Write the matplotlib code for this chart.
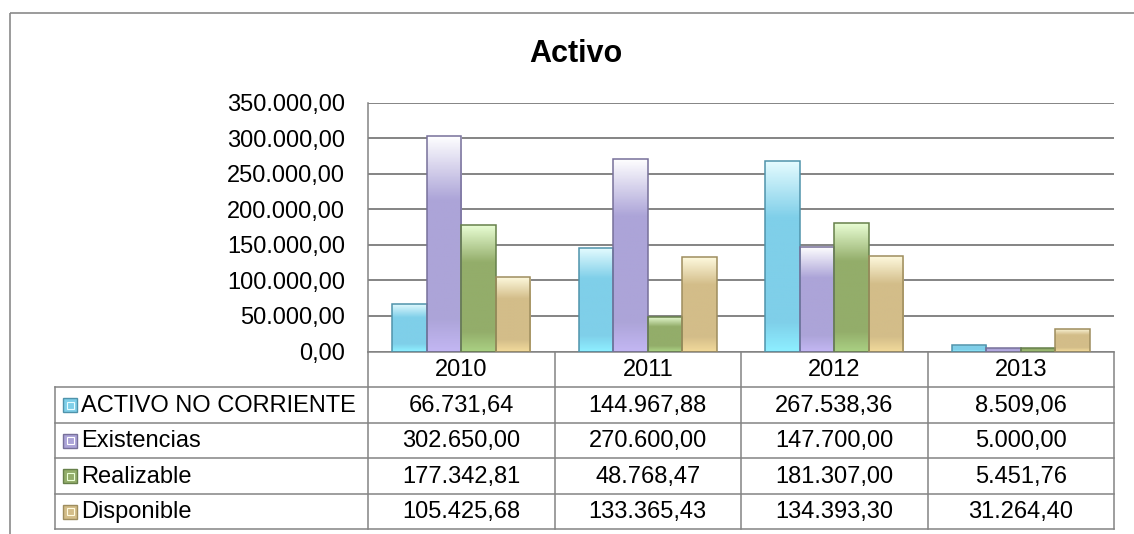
import numpy as np
import matplotlib.pyplot as plt
from matplotlib.patches import Rectangle
from matplotlib.colors import LinearSegmentedColormap

plt.rcParams['font.family'] = ['Liberation Sans', 'DejaVu Sans']

# --- data ---
years = ["2010", "2011", "2012", "2013"]
series_names = ["ACTIVO NO CORRIENTE", "Existencias", "Realizable", "Disponible"]
activo_no_corriente = [66731.64, 144967.88, 267538.36, 8509.06]
existencias = [302650.00, 270600.00, 147700.00, 5000.00]
realizable = [177342.81, 48768.47, 181307.00, 5451.76]
disponible = [105425.68, 133365.43, 134393.30, 31264.40]
series_values = [activo_no_corriente, existencias, realizable, disponible]
y_ticks = [0, 50000, 100000, 150000, 200000, 250000, 300000, 350000]

# light top / main / bottom / edge colour per series
styles = [
    ("#e6fcff", "#7fcfe9", "#8deeff", "#4f93ab"),
    ("#ffffff", "#aca4d8", "#c2b6f2", "#77709a"),
    ("#eaffd6", "#93ad6a", "#a9cf82", "#66804a"),
    ("#fffbe0", "#d3bd89", "#f0d89a", "#9e8d5e"),
]


def fmt(v):
    s = f"{v:,.2f}"
    return s.replace(",", "X").replace(".", ",").replace("X", ".")


W, H = 1134, 534
fig = plt.figure(figsize=(W / 100, H / 100), dpi=100)

# overlay in pixel coordinates for frame and data table
tax = fig.add_axes([0, 0, 1, 1], zorder=0)
tax.set_xlim(0, W)
tax.set_ylim(H, 0)
tax.axis("off")

px0, px1 = 368, 1114
py_top, py0 = 102.7, 351.5
ax = fig.add_axes([px0 / W, (H - py0) / H, (px1 - px0) / W, (py0 - py_top) / H], zorder=2)
ax.set_facecolor("none")

gc = "#848484"
lw = 1.1
fs = 17

# outer chart frame (runs off the right and bottom of the image)
tax.add_patch(Rectangle((10, 13), 1200, 600, fill=False, edgecolor="#8a8a8a", lw=1.2))

# --- bars with a vertical glossy gradient ---
n = len(series_values)
bw = 1 / (n + 1.4)
x = np.arange(len(years))
for i, (vals, st) in enumerate(zip(series_values, styles)):
    cmap = LinearSegmentedColormap.from_list(
        f"g{i}", [(0, st[0]), (0.3, st[1]), (0.85, st[1]), (1, st[2])])
    grad = np.linspace(0, 1, 200).reshape(-1, 1)
    offs = x + (i - (n - 1) / 2) * bw
    bars = ax.bar(offs, vals, width=bw, facecolor="none", edgecolor=st[3],
                  linewidth=1.1, zorder=4)
    for b in bars:
        bx, by = b.get_x(), b.get_y()
        im = ax.imshow(grad, cmap=cmap, aspect="auto", origin="upper",
                       extent=(bx, bx + b.get_width(), by, by + b.get_height()),
                       zorder=3)
        im.set_clip_path(b)

ax.set_xlim(-0.5, len(years) - 0.5)
ax.set_ylim(0, 350000)
ax.set_yticks(y_ticks)
ax.set_yticklabels([fmt(t) for t in y_ticks], fontsize=fs)
ax.tick_params(axis="y", length=0, pad=16.5)
ax.set_xticks([])
ax.grid(axis="y", color=gc, linewidth=1.4, zorder=1)
ax.set_axisbelow(True)
for s in ["top", "right"]:
    ax.spines[s].set_visible(False)
for s in ["left", "bottom"]:
    ax.spines[s].set_color(gc)
    ax.spines[s].set_linewidth(lw)

ax.set_title("Activo", fontsize=22, fontweight="bold", x=(576 - px0) / (px1 - px0), y=1.0, pad=29)

# --- data table under the plot ---
colw = (px1 - px0) / len(years)
row_h = 35.5
rows_y = [py0 + k * row_h for k in range(len(series_names) + 2)]
lab_x0 = 55

# horizontal lines (the top one is the x axis spine)
for yy in rows_y[1:]:
    tax.plot([lab_x0, px1], [yy, yy], color=gc, lw=lw)
# vertical lines
for j in range(len(years) + 1):
    xx = px0 + j * colw
    tax.plot([xx, xx], [rows_y[0], rows_y[-1]], color=gc, lw=lw)
tax.plot([lab_x0, lab_x0], [rows_y[1], rows_y[-1]], color=gc, lw=lw)

for j, yr in enumerate(years):
    tax.text(px0 + (j + 0.5) * colw, (rows_y[0] + rows_y[1]) / 2 + 1, yr,
             ha="center", va="center", fontsize=fs)

for i, (name, vals, st) in enumerate(zip(series_names, series_values, styles)):
    yc = (rows_y[i + 1] + rows_y[i + 2]) / 2 + 1
    tax.add_patch(Rectangle((63, yc - 7.5), 14, 14, facecolor=st[1],
                            edgecolor=st[3], lw=1.0))
    tax.add_patch(Rectangle((66.5, yc - 4), 7, 7, facecolor="none",
                            edgecolor=st[0], lw=0.8))
    tax.text(81, yc, name, ha="left", va="center", fontsize=fs)
    for j, v in enumerate(vals):
        tax.text(px0 + (j + 0.5) * colw, yc, fmt(v), ha="center", va="center", fontsize=fs)

fig.savefig("out.png", dpi=100)
